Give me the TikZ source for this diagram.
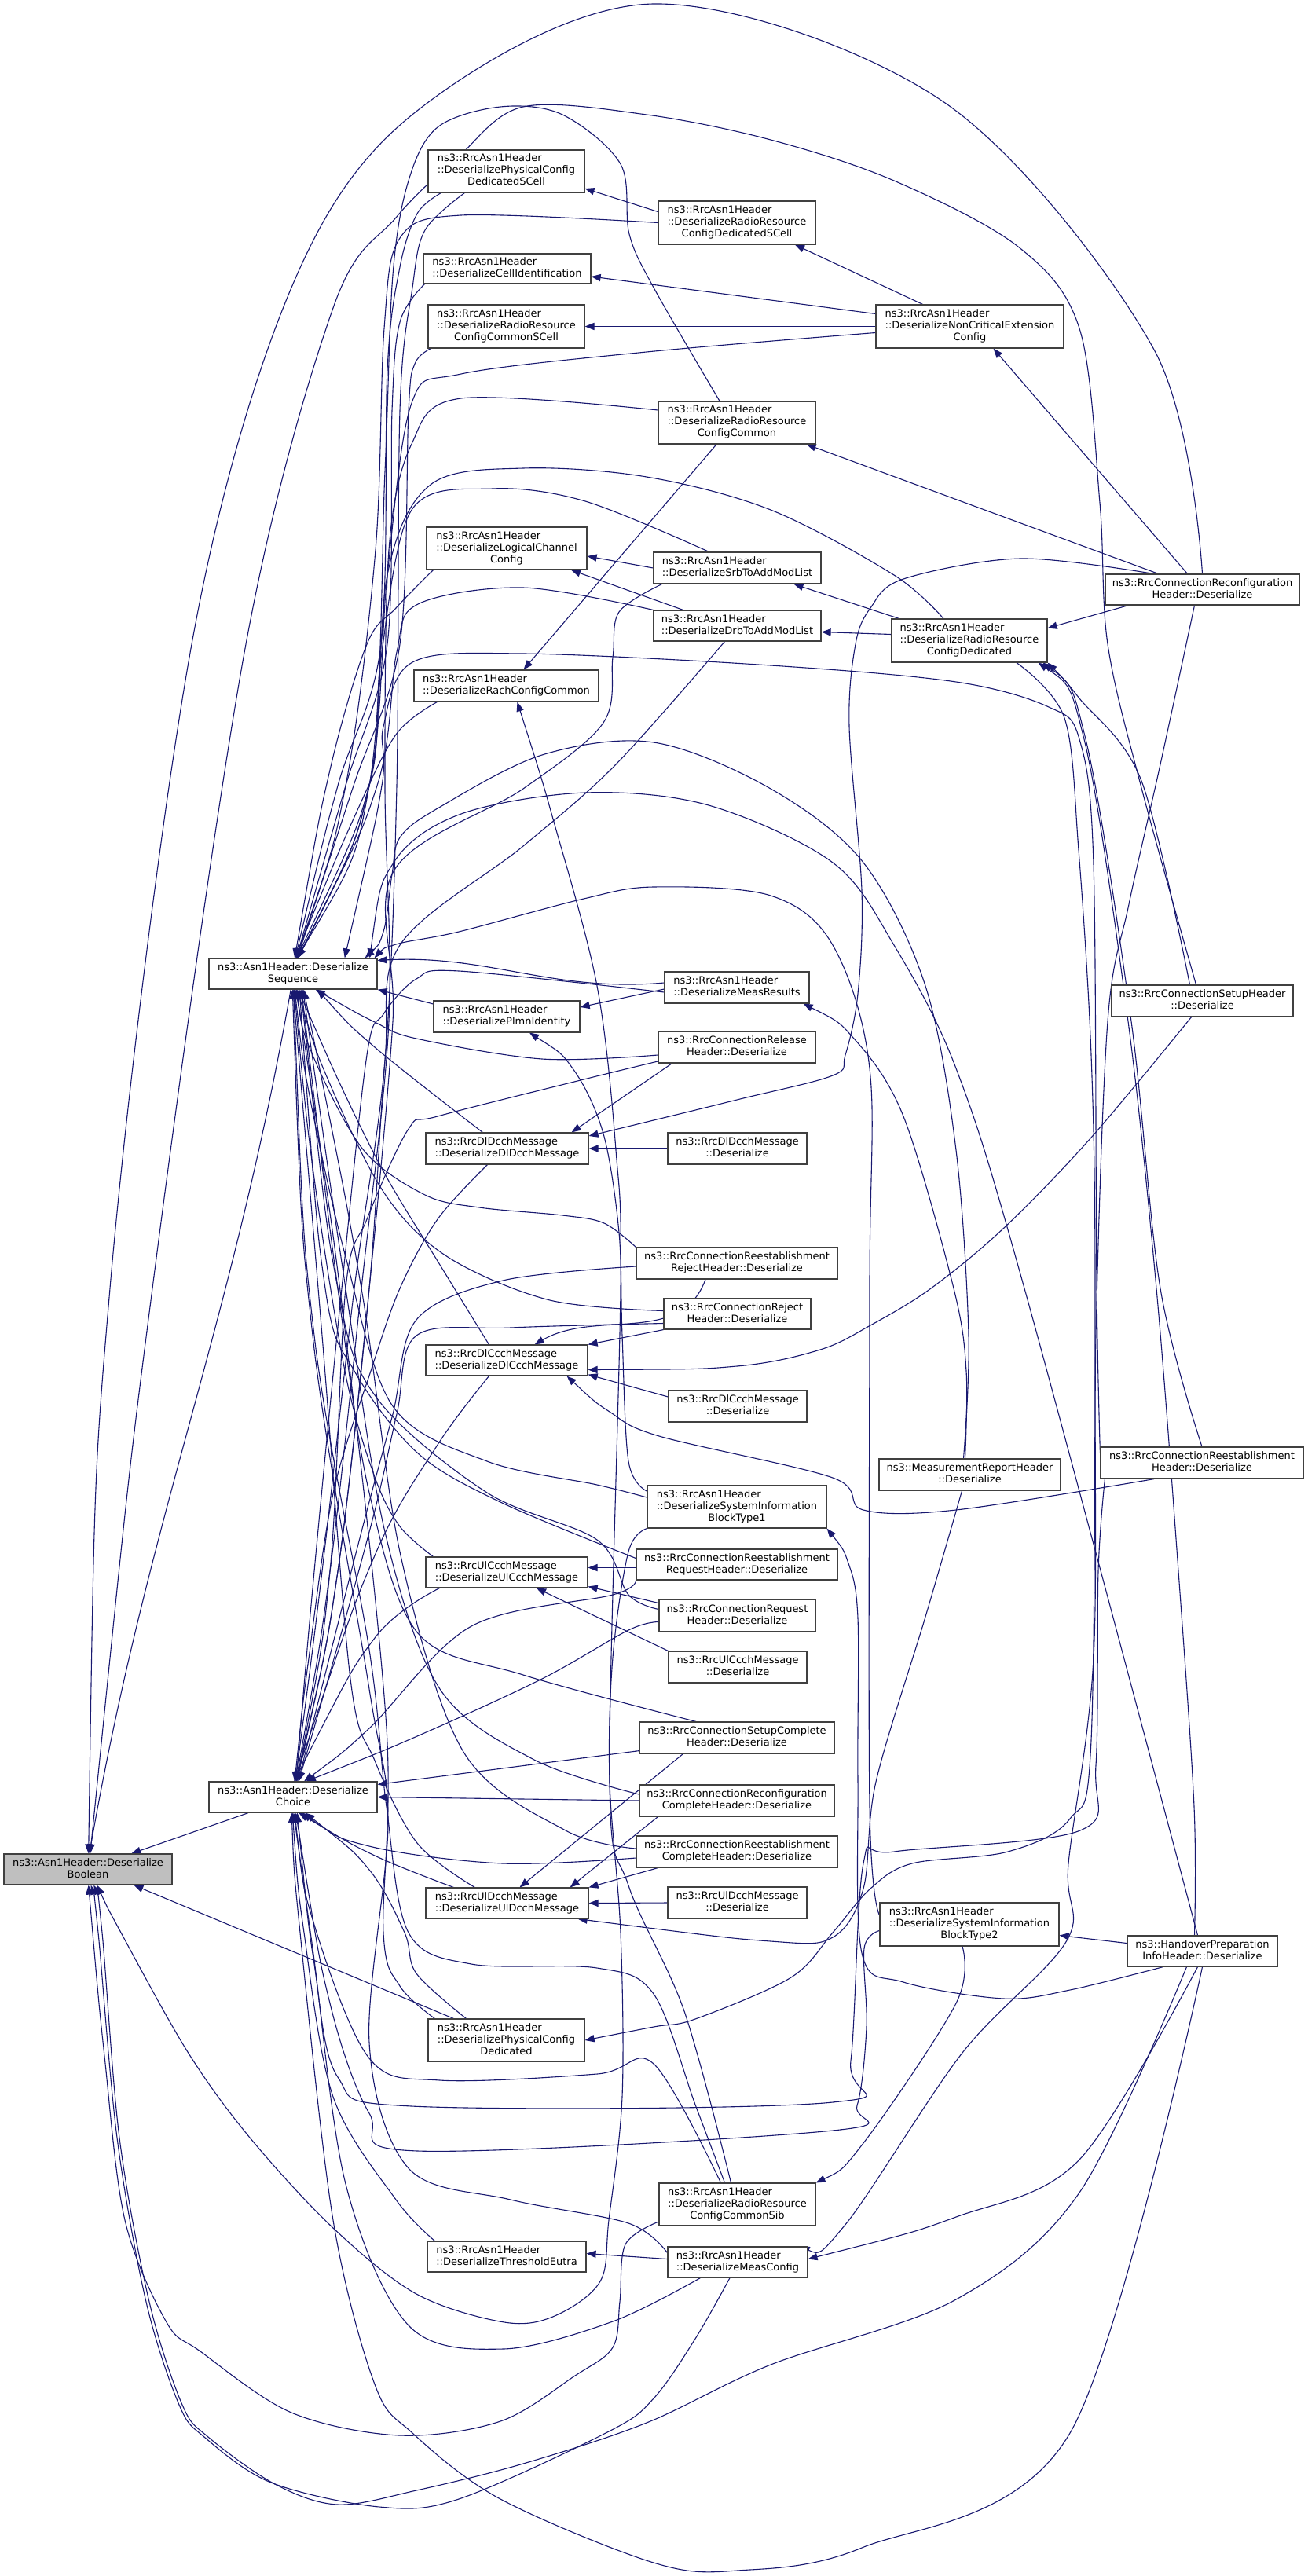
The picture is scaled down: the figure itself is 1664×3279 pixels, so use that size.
\documentclass[tikz,border=0pt]{standalone}
\usepackage{fontspec}
\setmainfont{DejaVu Sans}
\usetikzlibrary{arrows.meta}
\definecolor{ec}{HTML}{191970}
\definecolor{bc}{HTML}{404040}
\pgfdeclarelayer{bgl}
\pgfdeclarelayer{edl}
\pgfsetlayers{bgl,edl,main}
\newcommand\lbl[2]{\begin{tabular}{@{}l@{}}#1\\\multicolumn{1}{@{}c@{}}{#2}\end{tabular}}
\newcommand\nd[7][]{\node[box,#1,minimum width={(#5-#3)*0.5pt},minimum height={(#6-#4)*0.5pt}] (#2) at ({(#3+#5)/2},{(#4+#6)/2}) {#7};}
\newcommand\ED[1]{\draw[edg] plot[smooth,tension=0.55] coordinates {#1};}
\begin{document}
\begin{tikzpicture}[x=0.5pt,y=-0.5pt,
  box/.style={draw=bc,line width=0.6pt,fill=white,inner sep=0pt,font=\fontsize{6.5}{7.5}\selectfont},
  edg/.style={draw=ec,line width=0.55pt,{Triangle[length=6pt,width=4.6pt]}-}]
\useasboundingbox (0,0) rectangle (1664,3279);
\begin{pgfonlayer}{bgl}
\fill[white] (0,0) rectangle (1664,3279);
\end{pgfonlayer}
% ---------------- nodes ----------------
\nd[fill=gray!50]{B}{5}{2360}{219}{2399}{\lbl{ns3::Asn1Header::Deserialize}{Boolean}}
\nd{seq}{266}{1220}{480}{1259}{\lbl{ns3::Asn1Header::Deserialize}{Sequence}}
\nd{choice}{266}{2268}{480}{2307}{\lbl{ns3::Asn1Header::Deserialize}{Choice}}
\nd{physSCell}{545}{191}{744}{245}{\lbl{ns3::RrcAsn1Header\\::DeserializePhysicalConfig}{DedicatedSCell}}
\nd{cellId}{539}{323}{752}{361}{\lbl{ns3::RrcAsn1Header}{::DeserializeCellIdentification}}
\nd{rrcCommonSCell}{545}{388}{744}{443}{\lbl{ns3::RrcAsn1Header\\::DeserializeRadioResource}{ConfigCommonSCell}}
\nd{logCh}{543}{671}{747}{725}{\lbl{ns3::RrcAsn1Header\\::DeserializeLogicalChannel}{Config}}
\nd{rach}{527}{853}{762}{893}{\lbl{ns3::RrcAsn1Header}{::DeserializeRachConfigCommon}}
\nd{plmn}{552}{1274}{738}{1314}{\lbl{ns3::RrcAsn1Header}{::DeserializePlmnIdentity}}
\nd{dlDcch}{542}{1442}{749}{1482}{\lbl{ns3::RrcDlDcchMessage}{::DeserializeDlDcchMessage}}
\nd{dlCcch}{542}{1712}{748}{1751}{\lbl{ns3::RrcDlCcchMessage}{::DeserializeDlCcchMessage}}
\nd{ulCcch}{542}{1982}{748}{2021}{\lbl{ns3::RrcUlCcchMessage}{::DeserializeUlCcchMessage}}
\nd{ulDcch}{542}{2403}{749}{2442}{\lbl{ns3::RrcUlDcchMessage}{::DeserializeUlDcchMessage}}
\nd{physDed}{545}{2570}{744}{2624}{\lbl{ns3::RrcAsn1Header\\::DeserializePhysicalConfig}{Dedicated}}
\nd{thresh}{544}{2853}{746}{2892}{\lbl{ns3::RrcAsn1Header}{::DeserializeThresholdEutra}}
\nd{rrcDedSCell}{838}{256}{1038}{311}{\lbl{ns3::RrcAsn1Header\\::DeserializeRadioResource}{ConfigDedicatedSCell}}
\nd{rrcCommon}{838}{511}{1038}{565}{\lbl{ns3::RrcAsn1Header\\::DeserializeRadioResource}{ConfigCommon}}
\nd{srb}{832}{703}{1045}{743}{\lbl{ns3::RrcAsn1Header}{::DeserializeSrbToAddModList}}
\nd{drb}{832}{777}{1045}{816}{\lbl{ns3::RrcAsn1Header}{::DeserializeDrbToAddModList}}
\nd{measRes}{846}{1237}{1030}{1277}{\lbl{ns3::RrcAsn1Header}{::DeserializeMeasResults}}
\nd{release}{838}{1313}{1038}{1353}{\lbl{ns3::RrcConnectionRelease}{Header::Deserialize}}
\nd{dlDcchD}{850}{1442}{1027}{1482}{\lbl{ns3::RrcDlDcchMessage}{::Deserialize}}
\nd{reestReject}{810}{1588}{1066}{1628}{\lbl{ns3::RrcConnectionReestablishment}{RejectHeader::Deserialize}}
\nd{reject}{845}{1653}{1032}{1692}{\lbl{ns3::RrcConnectionReject}{Header::Deserialize}}
\nd{dlCcchD}{851}{1770}{1027}{1810}{\lbl{ns3::RrcDlCcchMessage}{::Deserialize}}
\nd{sib1}{824}{1891}{1052}{1945}{\lbl{ns3::RrcAsn1Header\\::DeserializeSystemInformation}{BlockType1}}
\nd{reestReq}{810}{1972}{1066}{2011}{\lbl{ns3::RrcConnectionReestablishment}{RequestHeader::Deserialize}}
\nd{request}{839}{2036}{1038}{2077}{\lbl{ns3::RrcConnectionRequest}{Header::Deserialize}}
\nd{ulCcchD}{851}{2102}{1027}{2142}{\lbl{ns3::RrcUlCcchMessage}{::Deserialize}}
\nd{setupComplete}{814}{2192}{1062}{2232}{\lbl{ns3::RrcConnectionSetupComplete}{Header::Deserialize}}
\nd{reconfComplete}{814}{2272}{1062}{2312}{\lbl{ns3::RrcConnectionReconfiguration}{CompleteHeader::Deserialize}}
\nd{reestComplete}{810}{2337}{1066}{2377}{\lbl{ns3::RrcConnectionReestablishment}{CompleteHeader::Deserialize}}
\nd{ulDcchD}{850}{2402}{1027}{2442}{\lbl{ns3::RrcUlDcchMessage}{::Deserialize}}
\nd{rrcCommonSib}{839}{2779}{1038}{2833}{\lbl{ns3::RrcAsn1Header\\::DeserializeRadioResource}{ConfigCommonSib}}
\nd{measConfig}{850}{2860}{1028}{2899}{\lbl{ns3::RrcAsn1Header}{::DeserializeMeasConfig}}
\nd{nonCrit}{1115}{388}{1354}{443}{\lbl{ns3::RrcAsn1Header\\::DeserializeNonCriticalExtension}{Config}}
\nd{rrcDed}{1135}{788}{1333}{843}{\lbl{ns3::RrcAsn1Header\\::DeserializeRadioResource}{ConfigDedicated}}
\nd{measReport}{1119}{1857}{1350}{1897}{\lbl{ns3::MeasurementReportHeader}{::Deserialize}}
\nd{sib2}{1120}{2422}{1348}{2477}{\lbl{ns3::RrcAsn1Header\\::DeserializeSystemInformation}{BlockType2}}
\nd{reconf}{1407}{731}{1654}{770}{\lbl{ns3::RrcConnectionReconfiguration}{Header::Deserialize}}
\nd{setup}{1415}{1254}{1646}{1294}{\lbl{ns3::RrcConnectionSetupHeader}{::Deserialize}}
\nd{reest}{1401}{1842}{1659}{1882}{\lbl{ns3::RrcConnectionReestablishment}{Header::Deserialize}}
\nd{handover}{1435}{2464}{1626}{2503}{\lbl{ns3::HandoverPreparation}{InfoHeader::Deserialize}}
% ---------------- edges ----------------
\begin{pgfonlayer}{edl}
% --- into DeserializeBoolean
\draw[edg] (B.85) to[out=80,in=-100] (seq.-98);
\draw[edg] (B.20) -- ([xshift=-28.5pt]choice.south);
\ED{(B.88) (140,1640) (244,820) (371,366) (531,141) (832,5) (1203,131) (1469,445) (reconf.north)}
\ED{(B.82) (194,1640) (313,820) (424,392) (504,277) (584,199) (666,136) (823,146) (981,178) (1138,230) (1296,314) (1374,418) (1400,640) (1410,820) (1453,1003) ([xshift=-4pt]setup.north)}
\draw[edg] (B.-19) -- ([xshift=16.5pt]physDed.north west);
\ED{(B.-88) (133,2617) (159,2826) (212,2956) (255,2993) (371,3071) (509,3100) (637,3082) (732,3024) (780,2988) (789,2930) (796,2857) ([yshift=-11pt]rrcCommonSib.west)}
\ED{(B.-80) (125,2460) (149,2721) (186,2930) (228,3061) (260,3102) (345,3160) (483,3191) (584,3181) (775,3095) (832,3053) (885,2977) ([xshift=-5pt]measConfig.south)}
\ED{(B.-70) (130,2460) (152,2721) (190,2930) (232,3061) (265,3102) (350,3162) (430,3188) (530,3170) (666,3136) (823,3084) (981,3010) (1217,2927) (1374,2791) ([xshift=-10pt]handover.south)}
\ED{(B.-60) (154,2460) (239,2612) (318,2721) (424,2836) (530,2920) (642,2956) (706,2948) (764,2904) (775,2826) (792,2669) (790,2460) (776,2268) (780,2110) (800,1975) (sib1.south west)}
\ED{(choice.-95) (382,2460) (424,2826) (477,3035) (525,3097) (637,3181) (832,3262) (938,3272) (1097,3243) (1362,3097) (handover.south)}
% --- into DeserializeSequence / Choice from upper nodes
\ED{(seq.82) (430,1000) (485,820) (493,471) (509,340) (531,272) ([xshift=8.5pt]physSCell.south west)}
\ED{(choice.82) (410,2000) (451,1640) (490,1350) (505,1000) (509,523) (525,366) (541,293) ([xshift=23.5pt]physSCell.south west)}
\ED{(seq.78) (440,1000) (493,820) (499,523) (509,410) ([xshift=1pt]cellId.south west)}
\ED{(seq.75) (450,1000) (509,820) (520,523) (528,463) ([xshift=2pt]rrcCommonSCell.south west)}
\ED{(seq.84) (420,980) (467,820) (504,774) ([xshift=4.5pt]logCh.south west)}
\ED{(seq.83) (451,1040) (504,935) ([xshift=15pt]rach.south west)}
\draw[edg] (seq.south east) -- ([yshift=8pt]plmn.west);
\ED{(seq.-33) (477,1333) ([xshift=36.5pt]dlDcch.north west)}
\ED{(choice.84) (393,2111) (424,1901) (472,1745) (509,1640) (557,1552) ([xshift=39.5pt]dlDcch.south west)}
\ED{(seq.79) (440,1000) (478,700) (489,418) (509,303) (587,274) (rrcDedSCell.west)}
\ED{(seq.76) (470,1000) (490,600) (500,350) (520,230) (557,162) (637,136) (716,146) (790,209) (801,298) (832,366) ([xshift=-11pt]rrcCommon.north)}
\ED{(choice.80) (420,2000) (460,1640) (495,1300) (490,1000) (495,700) (524,565) (587,507) ([yshift=8pt]rrcCommon.west)}
\ED{(seq.77) (470,1000) (485,837) (524,649) (627,622) (745,638) ([xshift=-18pt]srb.north)}
\ED{(choice.78) (430,2000) (470,1640) (500,1300) (501,1109) (666,1004) (768,920) (780,837) (788,779) ([xshift=5.5pt]srb.south west)}
\ED{(seq.74) (480,1000) (505,830) (532,769) (666,748) (drb.north west)}
\ED{(choice.76) (430,2000) (470,1640) (490,1350) (509,1203) (666,1077) (784,973) ([xshift=-8pt]drb.south)}
\ED{(seq.72) (470,1000) (493,732) (548,617) (666,596) (823,607) (981,649) (1138,732) ([xshift=-16.5pt]rrcDed.north)}
\ED{(seq.73) (470,1000) (493,732) (524,513) (587,476) (823,448) ([yshift=-4pt]nonCrit.west)}
\ED{(seq.17) (486,1000) (488,925) (525,843) (666,832) (981,847) (1217,868) (1335,900) (1374,941) (1392,1100) (1396,1640) ([yshift=-4pt]reest.north west)}
\ED{([xshift=-8pt]seq.north east) (488,1186) (499,1113) (509,1066) (557,1029) (690,961) (832,945) (981,1004) (1099,1098) (1178,1255) (1217,1464) (1233,1700) ([xshift=-4pt]measReport.north)}
\ED{([xshift=-5pt]seq.north east) (501,1098) (587,1036) (745,1009) (902,1025) (1060,1098) (1138,1203) (1217,1360) (1304,1640) ([xshift=-3pt]handover.north)}
\ED{([xshift=-2pt]seq.north east) (504,1202) (584,1186) (743,1144) (832,1129) (981,1140) (1060,1203) (1107,1360) (1107,1640) (1107,2300) ([yshift=6pt]sib2.west)}
\draw[edg] (seq.9) to[out=3,in=185] ([yshift=3pt]measRes.west);
\ED{(choice.79) (400,2000) (435,1640) (467,1343) (488,1291) (530,1246) (584,1236) ([yshift=-3pt]measRes.west)}
\draw[edg] ([yshift=6pt]plmn.east) -- ([yshift=-1pt]measRes.west);
\ED{(seq.-35) (477,1301) (530,1322) (690,1348) ([yshift=-5pt]release.west)}
\ED{(choice.77) (420,2000) (440,1640) (467,1552) (520,1437) (557,1421) (743,1374) ([yshift=-9pt]release.west)}
\draw[edg] ([xshift=-11pt]dlDcch.north east) -- ([xshift=9pt]release.south west);
\ED{([yshift=8pt]dlDcch.east) (938,1400) (1060,1369) (1076,1343) (1092,1265) (1097,1134) (1081,925) (1089,820) (1108,774) (1150,737) (1299,711) ([xshift=31pt]reconf.north west)}
\draw[edg] (dlDcch.east) -- (dlDcchD.west);
% --- lower nodes into Sequence / Choice
\ED{(seq.-72) (440,1395) (493,1500) (560,1610) ([xshift=40.5pt]dlCcch.north west)}
\ED{(choice.85) (477,1980) (557,1839) ([xshift=40.5pt]dlCcch.south west)}
\ED{(seq.-80) (398,1343) (462,1463) (541,1521) (610,1537) (716,1547) (769,1557) (reestReject.north west)}
\ED{(choice.72) (460,1950) (500,1800) (530,1680) (640,1630) ([yshift=-2pt]reestReject.west)}
\draw[edg] ([xshift=-34pt]dlCcch.north east) to[out=30,in=-110] ([xshift=-20pt]reestReject.south);
\ED{(seq.-76) (420,1380) (490,1520) (570,1600) (700,1655) ([yshift=2pt]reject.west)}
\ED{(choice.70) (470,1950) (505,1800) (530,1700) (650,1690) ([yshift=-6pt]reject.west)}
\draw[edg] (dlCcch.north east) -- (reject.south west);
\draw[edg] ([yshift=1pt]dlCcch.south east) -- ([yshift=6pt]dlCcchD.west);
\ED{([yshift=-6pt]dlCcch.east) (938,1739) (1044,1718) (1108,1687) (1185,1640) (1278,1563) (1389,1448) ([xshift=-7pt]setup.south)}
\ED{([xshift=-13.5pt]dlCcch.south east) (776,1797) (839,1828) (1060,1881) (1099,1922) (1217,1922) ([xshift=-30.5pt]reest.south)}
\ED{(seq.-84) (395,1400) (440,1600) (500,1790) (620,1860) (760,1890) ([yshift=6pt]sib1.west)}
\ED{([xshift=14.5pt]plmn.south) (729,1360) (768,1443) (788,1569) (792,1700) (800,1860) ([yshift=10pt]sib1.west)}
\ED{(seq.-68) (414,1640) (451,1745) (531,1849) (637,1912) ([yshift=4pt]reestReq.west)}
\ED{(choice.55) (470,2200) (600,2070) (780,2030) (reestReq.south west)}
\draw[edg] ([yshift=3pt]ulCcch.east) -- ([yshift=-2pt]reestReq.west);
\ED{(seq.-64) (430,1640) (480,1780) (620,1900) (760,1960) (800,2030) ([yshift=4pt]request.west)}
\ED{(choice.50) (531,2210) (690,2137) (800,2075) ([yshift=-4pt]request.west)}
\draw[edg] ([yshift=-9pt]ulCcch.east) -- ([yshift=8pt]request.west);
\draw[edg] ([xshift=19pt]ulCcch.south) -- (ulCcchD.north west);
\ED{(seq.-86) (400,1500) (440,1750) (477,1880) (509,1943) ([xshift=5pt]ulCcch.north west)}
\ED{(choice.86) (477,2085) ([xshift=9pt]ulCcch.south west)}
\ED{(seq.-62) (430,1640) (470,1900) (532,2079) (666,2132) ([xshift=-26pt]setupComplete.north)}
\draw[edg] ([yshift=-2pt]choice.north east) -- ([yshift=2pt]setupComplete.south west);
\draw[edg] ([xshift=8pt]ulDcch.north) -- ([xshift=28pt]setupComplete.south west);
\ED{(seq.-58) (440,1640) (490,1950) (560,2150) (680,2240) ([yshift=4pt]reconfComplete.west)}
\draw[edg] (choice.east) -- (reconfComplete.west);
\draw[edg] ([xshift=-12pt]ulDcch.north east) -- ([xshift=12pt]reconfComplete.south west);
\ED{(seq.-56) (460,1640) (510,1980) (590,2230) (720,2330) ([yshift=2pt]reestComplete.west)}
\ED{(choice.-60) (470,2350) (640,2372) ([yshift=-4pt]reestComplete.west)}
\draw[edg] (ulDcch.north east) -- ([xshift=14pt]reestComplete.south west);
\draw[edg] (ulDcch.east) -- (ulDcchD.west);
\ED{(seq.-90) (410,1700) (446,2137) (477,2241) (531,2346) ([xshift=31.5pt]ulDcch.north west)}
\ED{(choice.-70) (477,2362) ([xshift=18pt]ulDcch.north west)}
\ED{([xshift=-7pt]ulDcch.south east) (981,2471) (1060,2466) (1099,2404) (1115,2268) (1178,2058) ([xshift=-5pt]measReport.south)}
\ED{([xshift=-4pt]measRes.south east) (1087,1322) (1150,1421) (1214,1640) (1230,1745) ([xshift=-3pt]measReport.north)}
\ED{(seq.-88) (400,1700) (470,2100) (492,2300) (520,2460) (600,2500) (760,2505) (832,2538) (885,2679) ([xshift=-8pt]rrcCommonSib.north)}
\ED{(choice.-84) (400,2450) (470,2620) (560,2648) (760,2640) (832,2627) ([xshift=-10.5pt]rrcCommonSib.north)}
\ED{([xshift=7pt]rach.south) (705,1046) (760,1255) (784,1464) (790,1640) (776,2268) (800,2400) (871,2560) ([xshift=-4pt]rrcCommonSib.north)}
\ED{(rrcCommonSib.north east) (1099,2728) (1217,2550) ([xshift=-4.5pt]sib2.south)}
\ED{(choice.-80) (420,2550) (470,2690) (532,2738) (1060,2712) (1091,2680) (1103,2580) (1100,2480) ([yshift=-4pt]sib2.west)}
\ED{(choice.-75) (400,2500) (430,2644) (524,2681) (1060,2676) (1083,2623) (1099,2372) (1138,2357) (1375,2330) (1395,2247) (1398,2000) ([xshift=3pt]reest.south west)}
\ED{(seq.-78) (440,1700) (492,2200) (488,2460) (509,2528) ([xshift=4.5pt]physDed.north west)}
\ED{(choice.-52) (470,2380) (515,2460) (530,2512) ([xshift=24.5pt]physDed.north west)}
\ED{(physDed.east) (832,2580) (885,2570) (1007,2517) (1060,2460) (1108,2404) (1161,2372) (1283,2357) (1362,2315) (1389,2215) (1394,1640) (1389,1343) (1373,1082) (1355,914) ([xshift=30pt]rrcDed.south)}
\ED{(choice.-92) (387,2460) (424,2669) (504,2800) ([xshift=5pt]thresh.north west)}
\draw[edg] ([yshift=2pt]thresh.east) -- ([yshift=2pt]measConfig.west);
\ED{(seq.-92) (398,1700) (470,2150) (494,2320) (470,2600) (520,2760) (650,2800) (800,2830) ([yshift=6pt]measConfig.west)}
\ED{(choice.-88) (398,2480) (440,2780) (520,2960) (640,2990) (780,2955) ([xshift=21pt]measConfig.south west)}
\ED{([xshift=-5pt]measConfig.north east) (1075,2833) (1225,2613) (1358,2470) (1360,2372) (1392,2111) (1395,1700) (1410,1300) (1437,1151) (1477,973) ([xshift=-5pt]reconf.south)}
\ED{([yshift=2pt]measConfig.east) (1217,2822) (1374,2749) ([xshift=-3pt]handover.south)}
\draw[edg] ([yshift=-7pt]sib2.east) -- ([yshift=5pt]handover.west);
\ED{(sib1.south east) (1080,1990) (1092,2060) (1092,2266) (1097,2486) (1150,2523) (1278,2544) (1362,2533) ([xshift=-25pt]handover.south)}
% --- upper right structure
\draw[edg] ([yshift=-11pt]physSCell.east) -- ([yshift=7pt]rrcDedSCell.west);
\draw[edg] ([yshift=-5pt]cellId.east) -- ([yshift=8pt]nonCrit.west);
\draw[edg] (rrcCommonSCell.east) -- (nonCrit.west);
\draw[edg] ([xshift=37pt]rrcDedSCell.south) -- ([xshift=-30pt]nonCrit.north);
\draw[edg] ([xshift=15pt]nonCrit.south) -- ([xshift=-9.5pt]reconf.north);
\draw[edg] ([xshift=-6pt]rrcCommon.south east) -- ([xshift=-28pt]reconf.north);
\draw[edg] ([xshift=11pt]rach.north) -- ([xshift=-13pt]rrcCommon.south);
\draw[edg] ([yshift=-5pt]logCh.east) -- (srb.west);
\draw[edg] ([xshift=41pt]logCh.south) -- ([xshift=19pt]drb.north west);
\draw[edg] ([xshift=36pt]srb.south) -- ([xshift=5pt]rrcDed.north west);
\draw[edg] ([yshift=-4pt]drb.east) -- ([yshift=4pt]rrcDed.west);
\draw[edg] ([yshift=8pt]rrcDed.east) -- ([xshift=15pt]reconf.south west);
\ED{(rrcDed.south east) (1374,889) (1453,994) ([xshift=-8pt]setup.north)}
\ED{([xshift=-3pt]rrcDed.south east) (1382,941) (1440,1300) (1477,1640) (reest.north)}
\ED{([xshift=-6pt]rrcDed.south east) (1380,941) (1436,1300) (1472,1640) (1500,2000) (1520,2300) ([xshift=-5pt]handover.north)}
\end{pgfonlayer}
\end{tikzpicture}
\end{document}
